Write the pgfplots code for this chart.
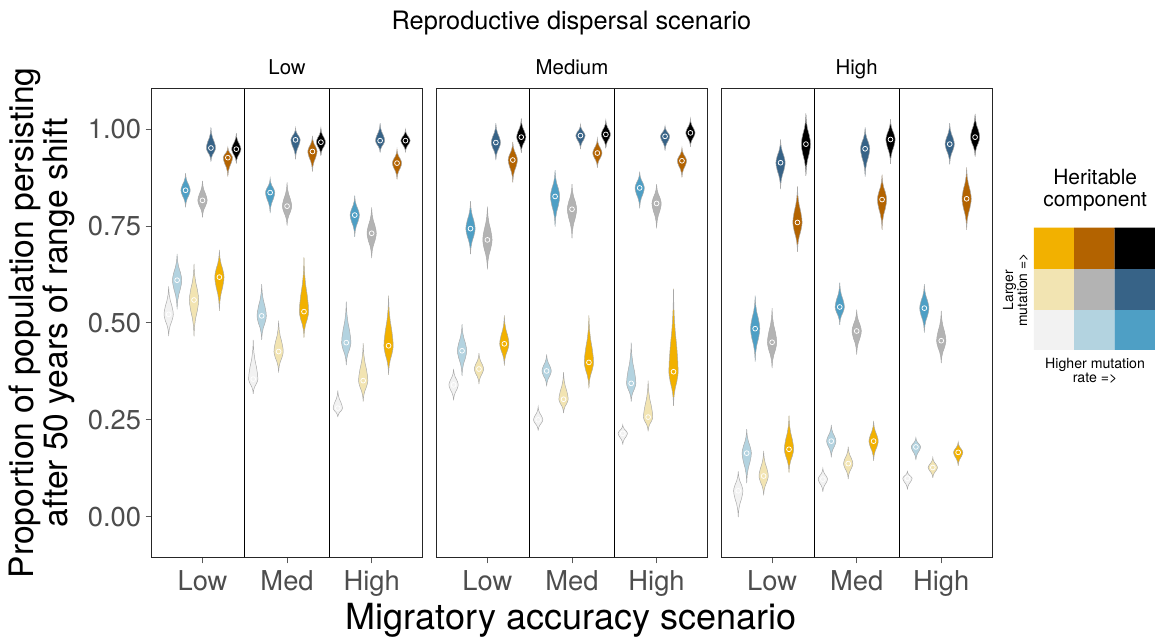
\documentclass[border=0pt]{standalone}
\usepackage{fontspec}
\setmainfont{TeX Gyre Heros}
\usepackage{pgfplots}
\pgfplotsset{compat=1.18}
\usepackage{pgfplotstable}

\definecolor{c1}{HTML}{F2F2F2}
\definecolor{c2}{HTML}{B3D3E0}
\definecolor{c3}{HTML}{4E9FC5}
\definecolor{c4}{HTML}{F2E4B2}
\definecolor{c5}{HTML}{B3B3B3}
\definecolor{c6}{HTML}{376387}
\definecolor{c7}{HTML}{F2B100}
\definecolor{c8}{HTML}{B36300}
\definecolor{c9}{HTML}{000000}
\definecolor{tickgrey}{HTML}{4D4D4D}
\definecolor{vline}{HTML}{A8A8A8}

% normalised violin outline: u = half-width fraction, v in [-1,1] (min..median..max)
\pgfplotstableread{
u v
0 -1
0.05 -0.85
0.13 -0.7
0.35 -0.5
0.7 -0.3
0.93 -0.12
1 0
0.93 0.12
0.7 0.3
0.35 0.5
0.13 0.7
0.05 0.85
0 1
-0.05 0.85
-0.13 0.7
-0.35 0.5
-0.7 0.3
-0.93 0.12
-1 0
-0.93 -0.12
-0.7 -0.3
-0.35 -0.5
-0.13 -0.7
-0.05 -0.85
0 -1
}\vshape
\pgfplotstableread{
u v
0 0
}\vpt
\pgfplotstableread{
u v
0 0
1 0
1 1
0 1
0 0
}\sqshape

% \V{group}{slot}{min}{median}{max}
\newcommand{\V}[5]{%
  \addplot[fill=c#2, draw=vline, line width=0.35pt]
    table[x expr={#1+(#2-5)*0.1+0.055*\thisrow{u}},
          y expr={\thisrow{v}<0 ? #4+\thisrow{v}*(#4-#3) : #4+\thisrow{v}*(#5-#4)}] {\vshape};
  \addplot[only marks, mark=o, mark size=1.8pt, mark options={draw=white, line width=0.55pt}]
    table[x expr={#1+(#2-5)*0.1}, y expr={#4}] {\vpt};
}
\newcommand{\SQ}[3]{%
  \addplot[fill=#3, draw=#3, line width=0.1pt]
    table[x expr={#1+\thisrow{u}}, y expr={#2+\thisrow{v}}] {\sqshape};
}

\newcommand\ticksize{\fontsize{20.5}{24}\selectfont}

\pgfplotsset{panel/.style={
  scale only axis, width=203pt, height=351.5pt, anchor=north west,
  xmin=0.4, xmax=3.6, ymin=-0.1047, ymax=1.104,
  axis line style={black!85, line width=0.7pt},
  xtick={1,2,3}, xticklabels={Low,Med,High},
  xtick pos=bottom, ytick pos=left, tick align=outside,
  major tick length=4.5pt,
  tick style={black!65, line width=0.6pt},
  tick label style={font=\ticksize, text=tickgrey},
  xticklabel style={yshift=-2pt},
  /pgf/number format/assume math mode=true,
  extra x ticks={1.5,2.5}, extra x tick labels={},
  extra x tick style={grid=major, major grid style={black, line width=0.5pt}, major tick length=0pt},
}}

\begin{document}
\begin{tikzpicture}
\useasboundingbox (0,0) rectangle (866.25pt,477pt);

% ---------------- Panel: Low ----------------
\begin{axis}[panel, at={(113.8pt,410.5pt)},
  ytick={0,0.25,0.5,0.75,1},
  yticklabel style={/pgf/number format/.cd, fixed, fixed zerofill, precision=2}]
\V{1}{1}{0.466}{0.522}{0.594}
\V{1}{2}{0.535}{0.610}{0.678}
\V{1}{3}{0.798}{0.842}{0.886}
\V{1}{4}{0.465}{0.559}{0.652}
\V{1}{5}{0.772}{0.816}{0.866}
\V{1}{6}{0.916}{0.951}{1.004}
\V{1}{7}{0.531}{0.618}{0.688}
\V{1}{8}{0.877}{0.926}{0.953}
\V{1}{9}{0.911}{0.948}{0.989}
\V{2}{1}{0.317}{0.355}{0.456}
\V{2}{2}{0.456}{0.518}{0.600}
\V{2}{3}{0.783}{0.836}{0.873}
\V{2}{4}{0.372}{0.426}{0.506}
\V{2}{5}{0.751}{0.801}{0.862}
\V{2}{6}{0.922}{0.972}{1.003}
\V{2}{7}{0.462}{0.529}{0.669}
\V{2}{8}{0.890}{0.942}{0.982}
\V{2}{9}{0.931}{0.966}{1.003}
\V{3}{1}{0.257}{0.280}{0.326}
\V{3}{2}{0.391}{0.449}{0.555}
\V{3}{3}{0.722}{0.778}{0.828}
\V{3}{4}{0.297}{0.351}{0.448}
\V{3}{5}{0.667}{0.731}{0.798}
\V{3}{6}{0.939}{0.970}{1.015}
\V{3}{7}{0.366}{0.441}{0.570}
\V{3}{8}{0.870}{0.912}{0.948}
\V{3}{9}{0.940}{0.970}{0.999}
\end{axis}

% ---------------- Panel: Medium ----------------
\begin{axis}[panel, at={(327.5pt,410.5pt)}, ytick=\empty]
\V{1}{1}{0.300}{0.340}{0.381}
\V{1}{2}{0.363}{0.428}{0.497}
\V{1}{3}{0.677}{0.743}{0.814}
\V{1}{4}{0.342}{0.381}{0.422}
\V{1}{5}{0.638}{0.714}{0.800}
\V{1}{6}{0.920}{0.965}{1.015}
\V{1}{7}{0.390}{0.446}{0.519}
\V{1}{8}{0.862}{0.920}{0.967}
\V{1}{9}{0.939}{0.979}{1.027}
\V{2}{1}{0.222}{0.250}{0.284}
\V{2}{2}{0.336}{0.376}{0.419}
\V{2}{3}{0.748}{0.826}{0.894}
\V{2}{4}{0.267}{0.303}{0.373}
\V{2}{5}{0.718}{0.793}{0.858}
\V{2}{6}{0.948}{0.983}{1.012}
\V{2}{7}{0.331}{0.398}{0.519}
\V{2}{8}{0.900}{0.938}{0.976}
\V{2}{9}{0.950}{0.986}{1.023}
\V{3}{1}{0.186}{0.215}{0.237}
\V{3}{2}{0.297}{0.344}{0.449}
\V{3}{3}{0.795}{0.848}{0.890}
\V{3}{4}{0.220}{0.257}{0.351}
\V{3}{5}{0.744}{0.808}{0.858}
\V{3}{6}{0.944}{0.981}{1.008}
\V{3}{7}{0.286}{0.374}{0.588}
\V{3}{8}{0.875}{0.918}{0.952}
\V{3}{9}{0.954}{0.990}{1.027}
\end{axis}

% ---------------- Panel: High ----------------
\begin{axis}[panel, at={(541.0pt,410.5pt)}, ytick=\empty]
\V{1}{1}{-0.001}{0.067}{0.117}
\V{1}{2}{0.087}{0.164}{0.226}
\V{1}{3}{0.400}{0.485}{0.570}
\V{1}{4}{0.055}{0.105}{0.170}
\V{1}{5}{0.383}{0.450}{0.538}
\V{1}{6}{0.845}{0.913}{0.973}
\V{1}{7}{0.114}{0.174}{0.261}
\V{1}{8}{0.683}{0.759}{0.852}
\V{1}{9}{0.879}{0.961}{1.040}
\V{2}{1}{0.064}{0.097}{0.125}
\V{2}{2}{0.153}{0.195}{0.237}
\V{2}{3}{0.495}{0.541}{0.604}
\V{2}{4}{0.097}{0.137}{0.181}
\V{2}{5}{0.418}{0.479}{0.534}
\V{2}{6}{0.877}{0.949}{1.004}
\V{2}{7}{0.144}{0.195}{0.247}
\V{2}{8}{0.740}{0.818}{0.882}
\V{2}{9}{0.910}{0.973}{1.025}
\V{3}{1}{0.070}{0.099}{0.117}
\V{3}{2}{0.146}{0.180}{0.204}
\V{3}{3}{0.475}{0.538}{0.600}
\V{3}{4}{0.100}{0.127}{0.153}
\V{3}{5}{0.396}{0.454}{0.531}
\V{3}{6}{0.909}{0.961}{1.015}
\V{3}{7}{0.131}{0.166}{0.193}
\V{3}{8}{0.740}{0.820}{0.901}
\V{3}{9}{0.929}{0.979}{1.039}
\end{axis}

% ---------------- Bivariate colour key ----------------
\begin{axis}[at={(775.3pt,306.2pt)}, anchor=north west, scale only axis,
  width=91pt, height=91.7pt, xmin=0, xmax=3, ymin=0, ymax=3, hide axis]
\SQ{0}{0}{c1}\SQ{1}{0}{c2}\SQ{2}{0}{c3}
\SQ{0}{1}{c4}\SQ{1}{1}{c5}\SQ{2}{1}{c6}
\SQ{0}{2}{c7}\SQ{1}{2}{c8}\SQ{2}{2}{c9}
\end{axis}

% ---------------- Texts ----------------
\node[anchor=base, font=\fontsize{19}{22}\selectfont] at (428.6pt,454.5pt) {Reproductive dispersal scenario};
\node[anchor=base, font=\fontsize{15.3}{18}\selectfont] at (215.3pt,420.75pt) {Low};
\node[anchor=base, font=\fontsize{15.3}{18}\selectfont] at (429.0pt,420.75pt) {Medium};
\node[anchor=base, font=\fontsize{15.3}{18}\selectfont] at (642.5pt,420.75pt) {High};
\node[anchor=base, font=\fontsize{27}{30}\selectfont] at (428.3pt,4.9pt) {Migratory accuracy scenario};
\node[anchor=base, rotate=90, font=\fontsize{25.2}{29}\selectfont] at (24.75pt,234.75pt) {Proportion of population persisting};
\node[anchor=base, rotate=90, font=\fontsize{25.2}{29}\selectfont] at (50.25pt,234.75pt) {after 50 years of range shift};
\node[anchor=base, font=\fontsize{15.7}{18}\selectfont] at (821.4pt,338.3pt) {Heritable};
\node[anchor=base, font=\fontsize{15.7}{18}\selectfont] at (821.4pt,321.8pt) {component};
\node[anchor=base, rotate=90, font=\fontsize{10.4}{12}\selectfont] at (759.8pt,259.5pt) {Larger};
\node[anchor=base, rotate=90, font=\fontsize{10.4}{12}\selectfont] at (770.3pt,259.5pt) {mutation =>};
\node[anchor=base, font=\fontsize{10.6}{12}\selectfont] at (821.3pt,201pt) {Higher mutation};
\node[anchor=base, font=\fontsize{10.6}{12}\selectfont] at (821.3pt,189.8pt) {rate =>};
\end{tikzpicture}
\end{document}
